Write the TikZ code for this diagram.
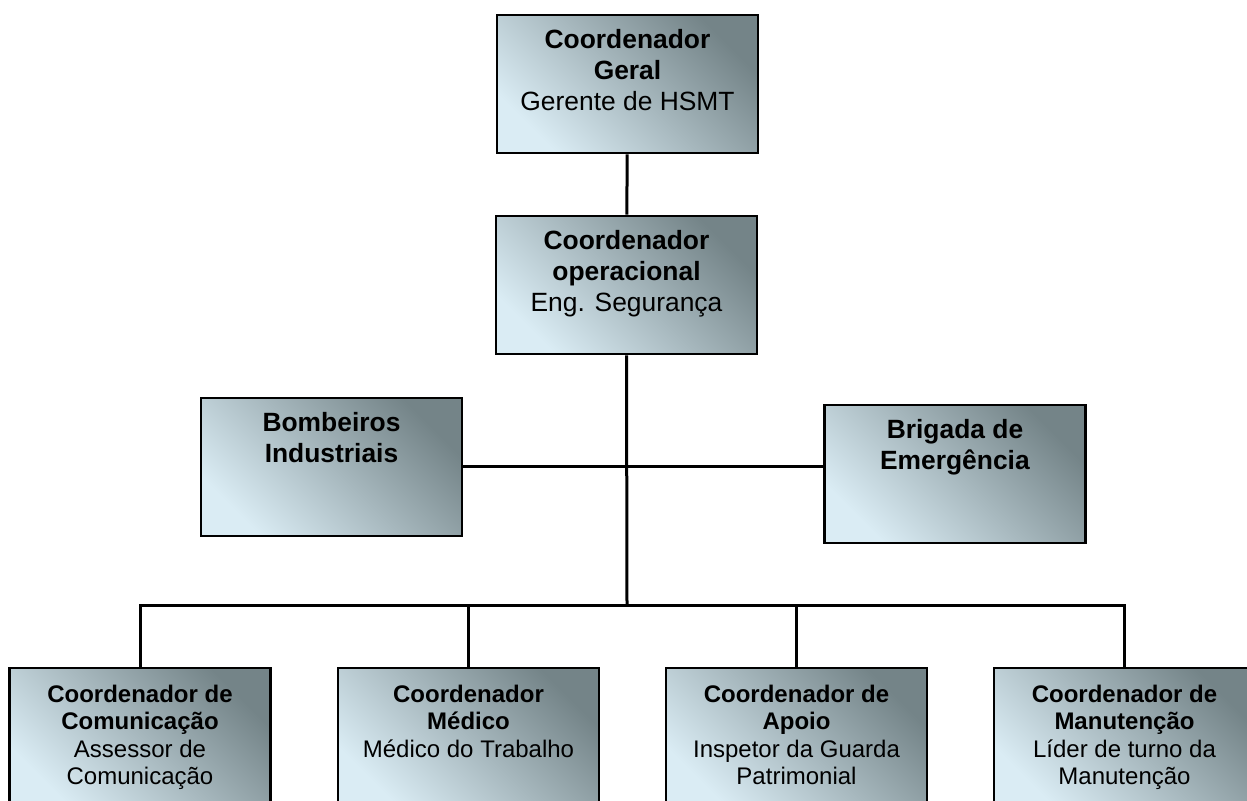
\documentclass[tikz,border=0pt]{standalone}
\usepackage{fontspec}
\setmainfont{Liberation Sans}
\usetikzlibrary{positioning, calc}

\definecolor{boxdark}{RGB}{116,132,136}
\definecolor{boxlight}{RGB}{218,236,244}

\tikzset{
  org top/.initial=7pt,
  orgbox/.style={draw=black, line width=1.4pt, inner sep=0pt, shade,
    top color=boxdark, bottom color=boxlight, shading angle=-45,
    font={\fontsize{13.2}{15.6}\selectfont},
    execute at begin node={\begin{minipage}[c][69pt][t]{130.5pt}\centering\vspace*{\pgfkeysvalueof{/tikz/org top}}},
    execute at end node={\end{minipage}}},
  lowbox/.style={orgbox, font={\fontsize{12}{13.7}\selectfont}, org top=8.5pt},
  link/.style={line width=1.5pt}
}

\begin{document}
\begin{tikzpicture}[x=0.5pt, y=-0.5pt]

\useasboundingbox (0, 0) rectangle (1247, 801);
\clip (0, 0) rectangle (1247, 801);

% top of the chart
\node[orgbox] (geral) at (627.5, 84) {\textbf{Coordenador}\\\textbf{Geral}\\Gerente de HSMT};
\node[orgbox] (oper) at (626.5, 285) {\textbf{Coordenador}\\\textbf{operacional}\\Eng. Segurança};

% side units
\node[orgbox] (bomb) at (331.5, 467) {\textbf{Bombeiros}\\\textbf{Industriais}};
\node[orgbox] (brig) at (955, 474) {\textbf{Brigada de}\\\textbf{Emergência}};

% bottom row
\node[lowbox] (com) at (140, 737) {\textbf{Coordenador de}\\\textbf{Comunicação}\\Assessor de\\Comunicação};
\node[lowbox] (med) at (468.5, 737) {\textbf{Coordenador}\\\textbf{Médico}\\Médico do Trabalho};
\node[lowbox] (apoio) at (796.5, 737) {\textbf{Coordenador de}\\\textbf{Apoio}\\Inspetor da Guarda\\Patrimonial};
\node[lowbox] (manut) at (1124.5, 737) {\textbf{Coordenador de}\\\textbf{Manutenção}\\Líder de turno da\\Manutenção};

\coordinate (bus) at (627, 605);

\draw [link] (geral) -- (oper);
\draw [link] (oper.south) -- (bus);
\draw [link] (bomb.east |- 0, 467) -- (brig.west |- 0, 467);
\draw [link] (com.north) -- (com.north |- bus) -- (manut.north |- bus) -- (manut.north);
\draw [link] (med.north) -- (med.north |- bus);
\draw [link] (apoio.north) -- (apoio.north |- bus);

\end{tikzpicture}
\end{document}
